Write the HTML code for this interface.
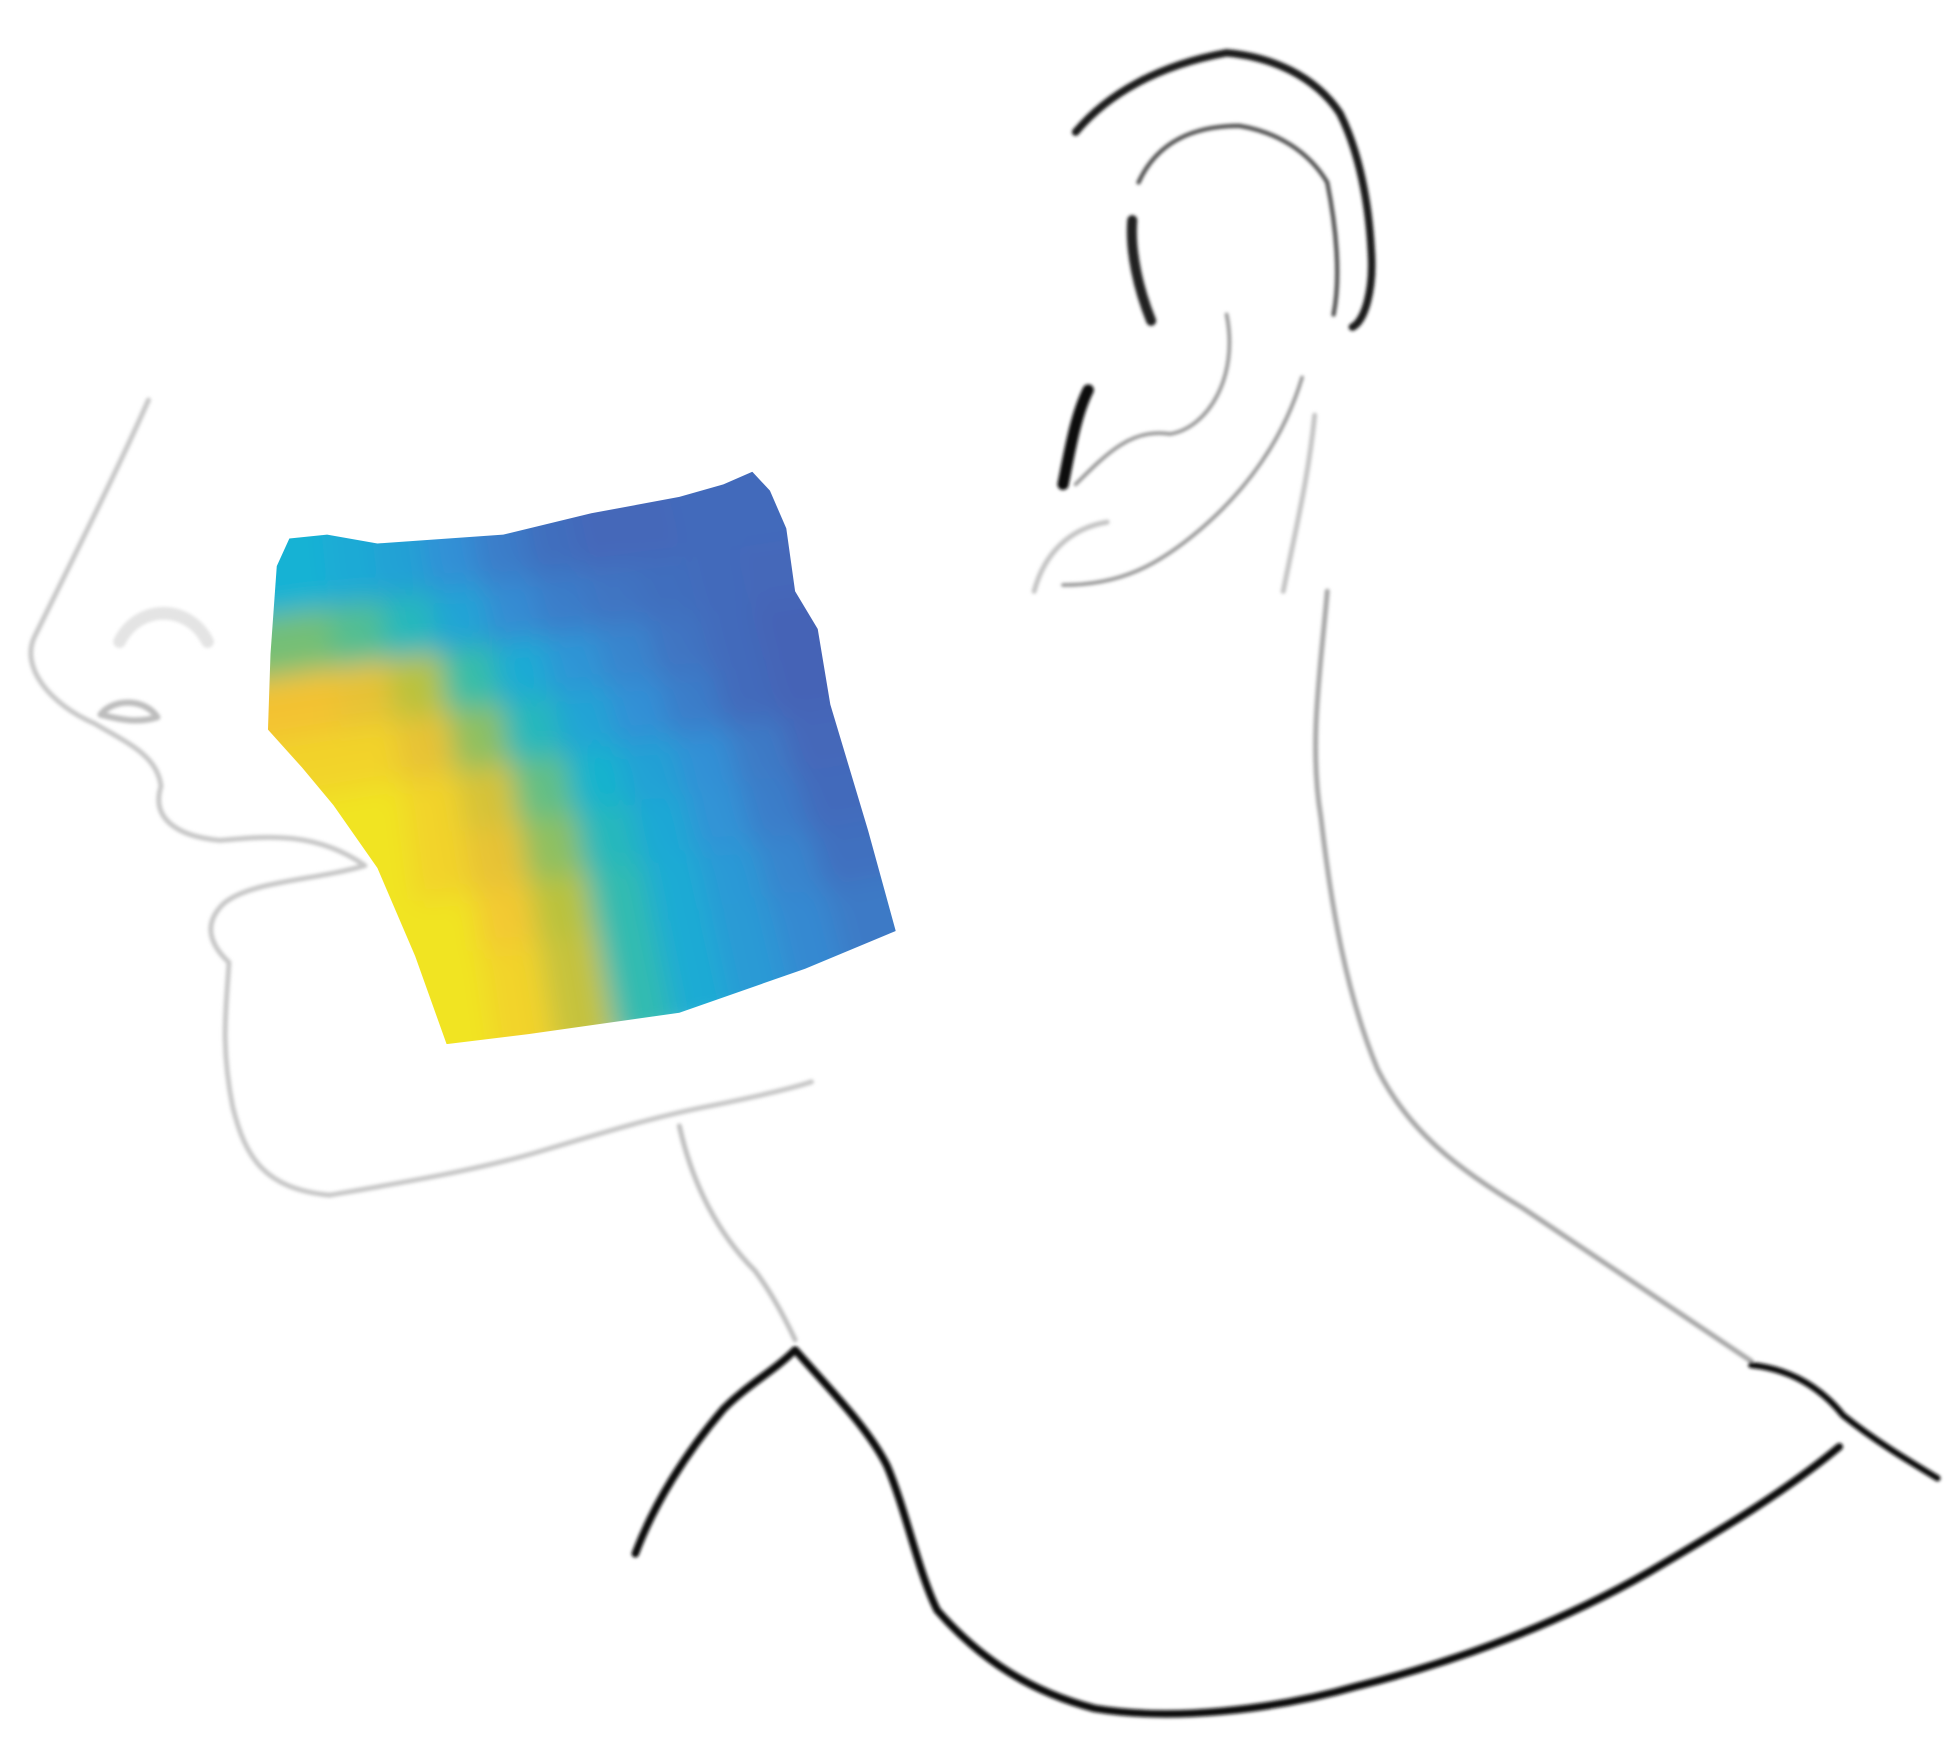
<!DOCTYPE html>
<html><head><meta charset="utf-8"><style>html,body{margin:0;padding:0;background:#fff;}svg{display:block;}</style></head>
<body>
<svg id="fig" width="1950" height="1738" viewBox="0 0 1550 1381.5" preserveAspectRatio="none" xmlns="http://www.w3.org/2000/svg">
<defs>
<clipPath id="patchClip"><polygon points="230,428 260,425 300,432 400,425 470,408 540,395 575,385 598,375 612,390 625,420 632,470 650,500 660,560 690,660 712,740 640,770 540,805 420,822 355,830 330,760 300,690 265,640 240,610 213,580 215,520 220,450"/></clipPath>
<filter id="blur"><feGaussianBlur stdDeviation="1.2"/></filter>
<filter id="heatBlur" x="-10%" y="-10%" width="120%" height="120%"><feGaussianBlur stdDeviation="11"/></filter>
</defs>
<g fill="none" stroke-linecap="round" stroke-linejoin="round" filter="url(#blur)">
<path stroke="#c8c8c8" stroke-width="4" d="M118,318 C95,370 60,440 28,505 C15,530 40,560 75,575 C100,590 125,600 128,625 C120,650 140,665 175,668 C210,665 250,660 290,688 C250,700 200,700 178,718 C160,735 168,752 182,765 C180,800 175,830 185,880 C195,920 210,945 262,950 C320,940 380,930 430,915 C480,900 520,888 560,880 C600,872 630,865 645,860"/>
<path stroke="#bdbdbd" stroke-width="5" d="M80,568 C90,555 115,555 125,570 C110,575 95,572 80,568 Z"/>
<path stroke="#e4e4e4" stroke-width="10" d="M95,510 C110,480 150,480 165,510"/>
<path stroke="#c0c0c0" stroke-width="4" d="M540,895 C550,940 570,980 600,1010 C615,1030 625,1050 632,1065"/>
<path stroke="#a8a8a8" stroke-width="4" d="M1055,470 C1050,530 1040,590 1050,650 C1058,720 1070,790 1095,850 C1120,900 1160,930 1210,960 C1270,1000 1330,1040 1392,1082"/>
<path stroke="#111" stroke-width="6" d="M505,1235 C520,1195 545,1155 575,1120 C595,1100 615,1090 632,1073 C660,1105 690,1135 705,1165 C720,1200 730,1250 745,1280 C780,1320 820,1345 870,1358 C930,1368 1010,1360 1080,1340 C1160,1320 1240,1290 1310,1250 C1370,1215 1420,1185 1462,1150"/>
<path stroke="#111" stroke-width="5" d="M1392,1085 C1420,1088 1445,1100 1465,1125 C1490,1145 1515,1160 1540,1175"/>
<path stroke="#1a1a1a" stroke-width="6" d="M855,105 C880,75 920,52 975,42 C1010,45 1045,60 1065,90 C1080,120 1088,160 1090,200 C1092,230 1085,255 1075,260"/>
<path stroke="#555" stroke-width="3.5" d="M905,145 C920,112 950,100 985,100 C1015,105 1040,120 1055,145 C1062,180 1066,220 1060,250"/>
<path stroke="#222" stroke-width="8" d="M900,175 C898,200 905,230 915,255"/>
<path stroke="#111" stroke-width="9" d="M865,310 C855,330 850,360 845,385"/>
<path stroke="#999" stroke-width="3" d="M855,385 C880,360 900,340 930,345 C960,340 985,300 975,250 M1035,300 C1020,350 990,390 955,420 C920,450 890,465 845,465"/>
<path stroke="#c4c4c4" stroke-width="4" d="M822,470 C830,440 850,420 880,415 M1045,330 C1040,380 1030,420 1020,470"/>
</g>
<g clip-path="url(#patchClip)">
<g id="heat" filter="url(#heatBlur)"></g>
</g>
</svg>
<script>
var rowLabels = ['r0','r1','r2','r3','r4','r5','r6','r7'];
var colLabels = ['c0','c1','c2','c3','c4','c5','c6','c7','c8','c9'];
var row0 = [0.50,0.45,0.40,0.30,0.20,0.12,0.08,0.08,0.10,0.10];
var row1 = [0.72,0.68,0.58,0.42,0.28,0.20,0.15,0.12,0.10,0.08];
var row2 = [0.90,0.88,0.80,0.65,0.46,0.33,0.24,0.15,0.10,0.06];
var row3 = [0.95,0.95,0.88,0.75,0.58,0.42,0.30,0.20,0.10,0.06];
var row4 = [1.00,1.00,0.95,0.85,0.70,0.52,0.40,0.30,0.18,0.08];
var row5 = [1.00,1.00,0.95,0.88,0.75,0.58,0.44,0.32,0.20,0.10];
var row6 = [1.00,1.00,1.00,0.92,0.80,0.62,0.46,0.35,0.24,0.13];
var row7 = [1.00,1.00,1.00,0.95,0.82,0.62,0.46,0.36,0.26,0.18];
var values = [row0,row1,row2,row3,row4,row5,row6,row7];
var colorStops = [0,0.3,0.5,0.65,0.8,0.9,1];
var colorHex = ['#4a58ae','#3390d6','#14b2d4','#38bda7','#b9c23e','#f3c233','#f1e424'];

var TL=[218,440],TR=[612,385],BR=[714,742],BL=[252,832];
var PAD=0.12;
function mapPt(u,v){
  var tx=TL[0]+(TR[0]-TL[0])*u, ty=TL[1]+(TR[1]-TL[1])*u;
  var bx=BL[0]+(BR[0]-BL[0])*u, by=BL[1]+(BR[1]-BL[1])*u;
  return [tx+(bx-tx)*v, ty+(by-ty)*v];
}
function hex2rgb(h){return [parseInt(h.substr(1,2),16),parseInt(h.substr(3,2),16),parseInt(h.substr(5,2),16)];}
function colorScale(t){
  t=Math.max(0,Math.min(1,t));
  for(var i=0;i<colorStops.length-1;i++){
    if(t<=colorStops[i+1]){
      var f=(t-colorStops[i])/(colorStops[i+1]-colorStops[i]);
      var a=hex2rgb(colorHex[i]),b=hex2rgb(colorHex[i+1]);
      return 'rgb('+Math.round(a[0]+(b[0]-a[0])*f)+','+Math.round(a[1]+(b[1]-a[1])*f)+','+Math.round(a[2]+(b[2]-a[2])*f)+')';
    }
  }
  return colorHex[colorHex.length-1];
}
var g=document.getElementById('heat');
var nr=values.length, nc=values[0].length;
for(var r=0;r<nr;r++){
  for(var c=0;c<nc;c++){
    var u0=c/nc, u1=(c+1)/nc, v0=r/nr, v1=(r+1)/nr;
    if(c===0)u0-=PAD; if(c===nc-1)u1+=PAD; if(r===0)v0-=PAD; if(r===nr-1)v1+=PAD;
    var p1=mapPt(u0,v0),p2=mapPt(u1,v0),p3=mapPt(u1,v1),p4=mapPt(u0,v1);
    var el=document.createElementNS('http://www.w3.org/2000/svg','polygon');
    el.setAttribute('points',[p1,p2,p3,p4].map(function(p){return p[0].toFixed(1)+','+p[1].toFixed(1);}).join(' '));
    var col=colorScale(values[r][c]);
    el.setAttribute('fill',col);
    el.setAttribute('stroke',col);
    el.setAttribute('stroke-width','1.5');
    
    
    g.appendChild(el);
  }
}
</script>
</body></html>
